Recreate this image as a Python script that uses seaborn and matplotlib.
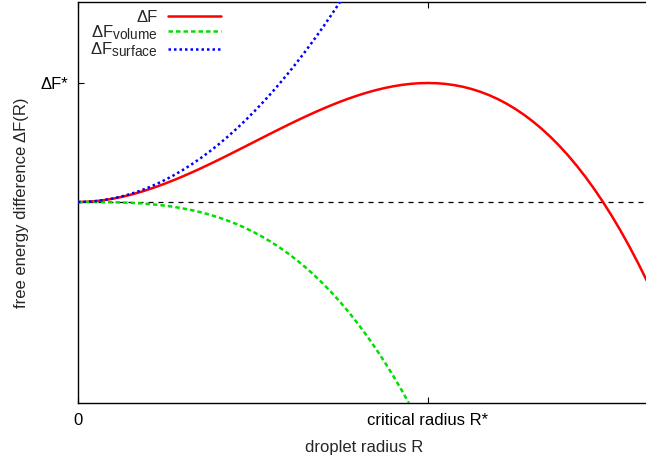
import numpy as np
import pandas as pd
import matplotlib
matplotlib.use("Agg")
import matplotlib.pyplot as plt
import matplotlib._mathtext as _mt
import seaborn as sns

# Droplet radius in units of the critical radius R*
radius = [0.0, 0.025, 0.05, 0.075, 0.1, 0.125, 0.15, 0.175, 0.2, 0.225, 0.25, 0.275,
          0.3, 0.325, 0.35, 0.375, 0.4, 0.425, 0.45, 0.475, 0.5, 0.525, 0.55, 0.575,
          0.6, 0.625, 0.65, 0.675, 0.7, 0.725, 0.75, 0.775, 0.8, 0.825, 0.85, 0.875,
          0.9, 0.925, 0.95, 0.975, 1.0, 1.025, 1.05, 1.075, 1.1, 1.125, 1.15, 1.175,
          1.2, 1.225, 1.25, 1.275, 1.3, 1.325, 1.35, 1.375, 1.4, 1.425, 1.45, 1.475,
          1.5, 1.525, 1.55, 1.575, 1.6, 1.625, 1.65]
# Free energy difference in units of the barrier ΔF*
dF_total = [0.0, 0.00184, 0.00725, 0.01603, 0.028, 0.04297, 0.06075, 0.08116, 0.104,
            0.12909, 0.15625, 0.18528, 0.216, 0.24822, 0.28175, 0.31641, 0.352, 0.38834,
            0.42525, 0.46253, 0.5, 0.53747, 0.57475, 0.61166, 0.648, 0.68359, 0.71825,
            0.75178, 0.784, 0.81472, 0.84375, 0.87091, 0.896, 0.91884, 0.93925, 0.95703,
            0.972, 0.98397, 0.99275, 0.99816, 1.0, 0.99809, 0.99225, 0.98228, 0.968,
            0.94922, 0.92575, 0.89741, 0.864, 0.82534, 0.78125, 0.73153, 0.676, 0.61447,
            0.54675, 0.47266, 0.392, 0.30459, 0.21025, 0.10878, 0.0, -0.11628, -0.24025,
            -0.37209, -0.512, -0.66016, -0.81675]
dF_volume = [0.0, -0.00003, -0.00025, -0.00084, -0.002, -0.00391, -0.00675, -0.01072,
             -0.016, -0.02278, -0.03125, -0.04159, -0.054, -0.06866, -0.08575, -0.10547,
             -0.128, -0.15353, -0.18225, -0.21434, -0.25, -0.28941, -0.33275, -0.38022,
             -0.432, -0.48828, -0.54925, -0.61509, -0.686, -0.76216, -0.84375, -0.93097,
             -1.024, -1.12303, -1.22825, -1.33984, -1.458, -1.58291, -1.71475, -1.85372,
             -2.0]
dF_surface = [0.0, 0.001875, 0.0075, 0.016875, 0.03, 0.046875, 0.0675, 0.091875, 0.12,
              0.151875, 0.1875, 0.226875, 0.27, 0.316875, 0.3675, 0.421875, 0.48,
              0.541875, 0.6075, 0.676875, 0.75, 0.826875, 0.9075, 0.991875, 1.08,
              1.171875, 1.2675, 1.366875, 1.47, 1.576875, 1.6875, 1.801875, 1.92]

series_labels = ["ΔF", "ΔF$_{\\rm volume}$", "ΔF$_{\\rm surface}$"]
x_tick_pos = [0.0, 1.0]
x_tick_labels = ["0", "critical radius R*"]
y_tick_pos = [1.0]
y_tick_labels = ["ΔF*"]

sns.set_style("white")
plt.rcParams["font.family"] = ["Liberation Sans", "DejaVu Sans"]
plt.rcParams["mathtext.fontset"] = "custom"
plt.rcParams["mathtext.rm"] = "Liberation Sans"
plt.rcParams["mathtext.it"] = "Liberation Sans"
try:
    _mt.SHRINK_FACTOR = 0.82
except Exception:
    pass

FS = 12
W, H = 646, 463
fig = plt.figure(figsize=(W / 100, H / 100), dpi=100)
x0, x1 = 78, 650
yb, yt = 403, 2
ax = fig.add_axes([x0 / W, 1 - yb / H, (x1 - x0) / W, (yb - yt) / H])

px_per_R = 350.0
px_per_F = 119.0
ax.set_xlim(0, (x1 - x0) / px_per_R)
ax.set_ylim(-(yb - 202) / px_per_F, (202 - yt) / px_per_F)

ax.axhline(0, color="black", lw=0.9, ls=(0, (4, 4)), zorder=1)

df_t = pd.DataFrame({"R": radius, "F": dF_total})
df_v = pd.DataFrame({"R": radius[:len(dF_volume)], "F": dF_volume})
df_s = pd.DataFrame({"R": radius[:len(dF_surface)], "F": dF_surface})

sns.lineplot(data=df_t, x="R", y="F", ax=ax, color="#ff0000", lw=1.8,
             label=series_labels[0], sort=False, zorder=3)
sns.lineplot(data=df_v, x="R", y="F", ax=ax, color="#00e000", lw=1.8,
             ls=(0, (1.8, 1.2)), label=series_labels[1], sort=False, zorder=3)
sns.lineplot(data=df_s, x="R", y="F", ax=ax, color="#0000ff", lw=1.8,
             ls=(0, (1.0, 1.2)), label=series_labels[2], sort=False, zorder=3)

ax.set_xticks(x_tick_pos)
ax.set_xticklabels(x_tick_labels)
ax.set_yticks(y_tick_pos)
ax.set_yticklabels(y_tick_labels)
ax.tick_params(axis="both", direction="in", length=4.5, width=0.8, labelsize=FS,
               colors="black", top=True, bottom=True, left=True, right=False)
ax.tick_params(axis="x", pad=7)
ax.tick_params(axis="y", pad=7)
ax.set_xlabel("droplet radius R", fontsize=FS, labelpad=9)
ax.set_ylabel("free energy difference ΔF(R)", fontsize=FS, labelpad=8)

for side in ["left", "bottom", "top"]:
    ax.spines[side].set_visible(True)
    ax.spines[side].set_color("black")
    ax.spines[side].set_linewidth(1.0)
ax.spines["right"].set_visible(False)

leg = ax.legend(loc="upper left", bbox_to_anchor=(0.008, 1.0), markerfirst=False,
                frameon=False, fontsize=FS, handlelength=3.2, labelspacing=-0.08,
                handletextpad=0.6, borderaxespad=0.05)
for t in leg.get_texts():
    t.set_ha("right")

fig.savefig("out.png", dpi=100)
